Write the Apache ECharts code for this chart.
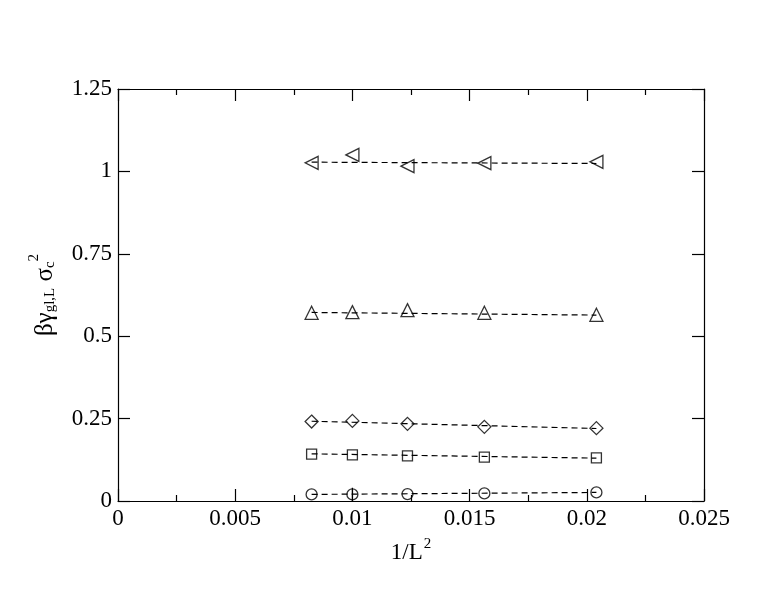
<!DOCTYPE html>
<html>
<head>
<meta charset="utf-8">
<script src="https://cdn.jsdelivr.net/npm/echarts@6/dist/echarts.min.js"></script>
<style>
html, body { margin: 0; padding: 0; background: #fff; }
#main { width: 763px; height: 590px; }
</style>
</head>
<body>
<div id="main"></div>
<script>
// 1/L^2 for L = 11, 10, 9, 8, 7
var invL2 = [0.00826, 0.0100, 0.01235, 0.01563, 0.02041];

// measured points
var circleVals = [0.020, 0.020, 0.021, 0.023, 0.026];
var circleErr = [0, 0.02, 0, 0, 0];
var squareVals = [0.142, 0.140, 0.137, 0.133, 0.131];
var diamondVals = [0.241, 0.243, 0.234, 0.225, 0.221];
var triUpVals = [0.571, 0.573, 0.579, 0.571, 0.565];
var triLeftVals = [1.026, 1.050, 1.016, 1.025, 1.029];

// dashed linear fits, value at each end of the x range
var fitX = [0.00826, 0.02041];
var fitCircle = [0.020, 0.026];
var fitSquare = [0.143, 0.130];
var fitDiamond = [0.242, 0.220];
var fitTriUp = [0.572, 0.564];
var fitTriLeft = [1.028, 1.024];

var xTicks = ['0', '0.005', '0.01', '0.015', '0.02', '0.025'];
var yTicks = ['0', '0.25', '0.5', '0.75', '1', '1.25'];

var FONT = 'Liberation Serif';

function pairs(xs, vals) {
    return xs.map(function (x, i) { return [x, vals[i]]; });
}

function markers(vals, symbol, size, rotate) {
    return {
        type: 'scatter',
        data: pairs(invL2, vals),
        symbol: symbol,
        symbolSize: size,
        symbolRotate: rotate || 0,
        itemStyle: { color: 'rgba(0,0,0,0)', borderColor: '#000', borderWidth: 1.3 },
        emphasis: { disabled: true },
        z: 3
    };
}

function fitLine(vals) {
    return {
        type: 'line',
        data: pairs(fitX, vals),
        symbol: 'none',
        lineStyle: { color: '#000', width: 1.2, type: [6, 4] },
        emphasis: { disabled: true },
        z: 2
    };
}

// vertical error bars
var errSeries = {
    type: 'custom',
    data: invL2.map(function (x, i) { return [x, circleVals[i], circleErr[i]]; }),
    renderItem: function (params, api) {
        var e = api.value(2);
        if (!e) return null;
        var top = api.coord([api.value(0), api.value(1) + e]);
        var bot = api.coord([api.value(0), api.value(1) - e]);
        return {
            type: 'line',
            shape: { x1: top[0], y1: top[1], x2: bot[0], y2: bot[1] },
            style: { stroke: '#000', lineWidth: 1.2 }
        };
    },
    z: 3
};

var myChart = echarts.init(document.getElementById('main'));

function axisCommon() {
    return {
        axisLine: { show: true, onZero: false, lineStyle: { color: '#000', width: 1.2 } },
        axisTick: { show: true, inside: true, length: 12, lineStyle: { color: '#000', width: 1.2 } },
        splitLine: { show: false }
    };
}
var minor = { show: true, splitNumber: 2, length: 6, lineStyle: { color: '#000', width: 1.2 } };

var option = {
    backgroundColor: '#fff',
    animation: false,
    grid: { left: 118, top: 89, right: 59, bottom: 89 },
    xAxis: [
        Object.assign({
            type: 'value', min: 0, max: 0.025, interval: 0.005,
            minorTick: minor,
            axisLabel: {
                fontFamily: FONT, fontSize: 23, color: '#000', margin: 6,
                formatter: function (v) { return xTicks[Math.round(v / 0.005)]; }
            },
            name: '1/L{sup|2}',
            nameLocation: 'middle',
            nameGap: 36,
            nameTextStyle: {
                fontFamily: FONT, fontSize: 23, color: '#000',
                rich: { sup: { fontFamily: FONT, fontSize: 15, padding: [0, 0, 16, 1] } }
            }
        }, axisCommon()),
        Object.assign({
            type: 'value', position: 'top', min: 0, max: 0.025, interval: 0.005,
            minorTick: minor,
            axisLabel: { show: false }
        }, axisCommon())
    ],
    yAxis: [
        Object.assign({
            type: 'value', min: 0, max: 1.25, interval: 0.25,
            axisLabel: {
                fontFamily: FONT, fontSize: 23, color: '#000', margin: 6,
                formatter: function (v) { return yTicks[Math.round(v / 0.25)]; }
            },
            name: '\u03b2\u03b3{sub|gl,L} \u03c3{sub|c}{sup|2}',
            nameLocation: 'middle',
            nameRotate: 90,
            nameGap: 54,
            nameTextStyle: {
                fontFamily: FONT, fontSize: 25, color: '#000',
                rich: {
                    sub: { fontFamily: FONT, fontSize: 15, padding: [10, 0, 0, 0] },
                    sup: { fontFamily: FONT, fontSize: 15, padding: [0, 0, 22, 0] }
                }
            }
        }, axisCommon()),
        Object.assign({
            type: 'value', position: 'right', min: 0, max: 1.25, interval: 0.25,
            axisLabel: { show: false }
        }, axisCommon())
    ],
    series: [
        fitLine(fitCircle),
        fitLine(fitSquare),
        fitLine(fitDiamond),
        fitLine(fitTriUp),
        fitLine(fitTriLeft),
        markers(circleVals, 'circle', 11),
        markers(squareVals, 'rect', 10),
        markers(diamondVals, 'diamond', 13),
        markers(triUpVals, 'triangle', 13),
        markers(triLeftVals, 'triangle', 13, 90),
        errSeries
    ]
};

myChart.setOption(option);
</script>
</body>
</html>
